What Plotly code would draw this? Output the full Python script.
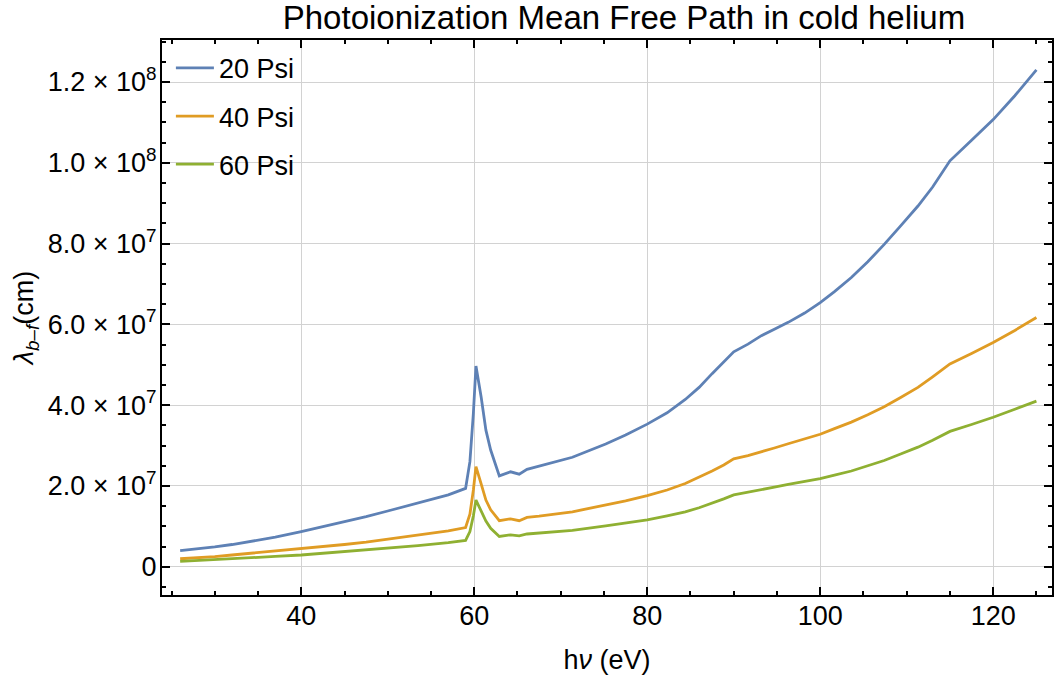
import plotly.graph_objects as go

energy_ev = [26, 28, 30, 32, 34, 37, 40, 42.5, 45, 47.5,
             50, 53.5, 57, 59, 59.5, 59.9, 60.2, 60.8, 61.35, 61.9,
             62.5, 62.9, 64.2, 65.2, 66.1, 67.5, 71.35, 75.2, 77.5, 80,
             82.3, 84.4, 86, 87.5, 88.85, 90, 91.65, 93.2, 94.7, 96.3,
             98.2, 100, 101.65, 103.6, 105.5, 107.4, 109.3, 111.3, 113, 115,
             117.5, 120, 122.5, 125]

psi20_e6 = [3.97, 4.4, 4.9, 5.5, 6.2, 7.3, 8.68, 9.9, 11.2, 12.4,
            13.8, 15.8, 17.8, 19.4, 26.0, 38.0, 49.7, 42.0, 33.8, 28.9,
            24.7, 22.5, 23.5, 22.9, 24.1, 24.9, 27.1, 30.4, 32.6, 35.3,
            38.1, 41.4, 44.4, 47.8, 50.7, 53.2, 55.1, 57.2, 58.8, 60.5,
            62.8, 65.4, 68.1, 71.6, 75.5, 79.8, 84.4, 89.3, 94.0, 100.5,
            105.6, 110.7, 116.6, 123.0]

psi40_e6 = [1.98, 2.2, 2.5, 2.9, 3.3, 3.8, 4.4, 4.9, 5.5, 6.1,
            6.8, 7.9, 8.9, 9.7, 13.0, 19.0, 24.8, 20.5, 16.5, 14.1,
            12.3, 11.4, 11.85, 11.4, 12.2, 12.5, 13.6, 15.2, 16.3, 17.6,
            19.0, 20.6, 22.1, 23.7, 25.2, 26.7, 27.5, 28.4, 29.4, 30.45,
            31.6, 32.8, 34.2, 35.8, 37.6, 39.6, 41.9, 44.4, 47.0, 50.2,
            52.8, 55.5, 58.5, 61.7]

psi60_e6 = [1.30, 1.5, 1.7, 1.95, 2.2, 2.55, 2.9, 3.3, 3.7, 4.1,
            4.5, 5.2, 5.95, 6.5, 8.7, 12.6, 16.5, 13.7, 11.3, 9.5,
            8.2, 7.5, 7.9, 7.65, 8.1, 8.3, 9.0, 10.1, 10.8, 11.6,
            12.6, 13.6, 14.6, 15.7, 16.8, 17.8, 18.4, 19.1, 19.7, 20.4,
            21.1, 21.8, 22.7, 23.7, 25.0, 26.3, 27.9, 29.6, 31.3, 33.5,
            35.2, 37.0, 39.0, 41.0]

series_names = ["20 Psi", "40 Psi", "60 Psi"]
series_colors = ["#5E81B5", "#E09C24", "#8FB032"]

x_ticks = [40, 60, 80, 100, 120]
y_tickvals = [0, 2e7, 4e7, 6e7, 8e7, 1e8, 1.2e8]
y_ticktext = ["0", "2.0 × 10<sup>7</sup>", "4.0 × 10<sup>7</sup>", "6.0 × 10<sup>7</sup>",
              "8.0 × 10<sup>7</sup>", "1.0 × 10<sup>8</sup>", "1.2 × 10<sup>8</sup>"]

FONT = "Liberation Sans, Arial, sans-serif"

fig = go.Figure()
for i, (name, vals, col) in enumerate(zip(series_names, [psi20_e6, psi40_e6, psi60_e6], series_colors)):
    fig.add_trace(go.Scatter(
        x=energy_ev, y=[v * 1e6 for v in vals], mode="lines", name=name,
        line=dict(color=col, width=2.8), legendgroup=f"g{i}",
    ))

axis_common = dict(
    showline=True, linecolor="black", linewidth=2, mirror="allticks",
    ticks="inside", tickcolor="black", tickwidth=1.5, ticklen=8,
    showgrid=True, gridcolor="#d2d2d2", gridwidth=1, zeroline=False,
    tickfont=dict(family=FONT, size=27, color="black"),
)

fig.update_xaxes(
    range=[23.9, 126.8], tickvals=x_ticks,
    minor=dict(dtick=5, tick0=0, ticks="inside", ticklen=4, tickcolor="black", tickwidth=1.5, showgrid=False),
    title=dict(text="h<i>ν</i> (eV)", font=dict(family=FONT, size=27, color="black"), standoff=20),
    ticklabelstandoff=-4,
    **axis_common,
)
fig.update_yaxes(
    range=[-7.0e6, 130.4e6], tickvals=y_tickvals, ticktext=y_ticktext,
    minor=dict(dtick=5e6, tick0=0, ticks="inside", ticklen=4, tickcolor="black", tickwidth=1.5, showgrid=False),
    title=dict(text="<i>λ</i><sub><i>b–f</i></sub>(cm)", font=dict(family=FONT, size=27, color="black"), standoff=6),
    ticklabelstandoff=-2,
    **axis_common,
)

fig.update_layout(
    width=1054, height=677,
    margin=dict(l=162, r=0, t=40, b=82),
    paper_bgcolor="white", plot_bgcolor="white",
    title=dict(text="Photoionization Mean Free Path in cold helium",
               font=dict(family=FONT, size=33, color="black"),
               x=(625 - 162) / 892, xref="paper", xanchor="center",
               y=1 - 17 / 677, yref="container", yanchor="middle"),
    legend=dict(x=0.01, y=0.993, xanchor="left", yanchor="top",
                font=dict(family=FONT, size=27, color="black"),
                bgcolor="rgba(0,0,0,0)", tracegroupgap=10, itemwidth=38),
    showlegend=True,
)

fig.write_html("out.html")
